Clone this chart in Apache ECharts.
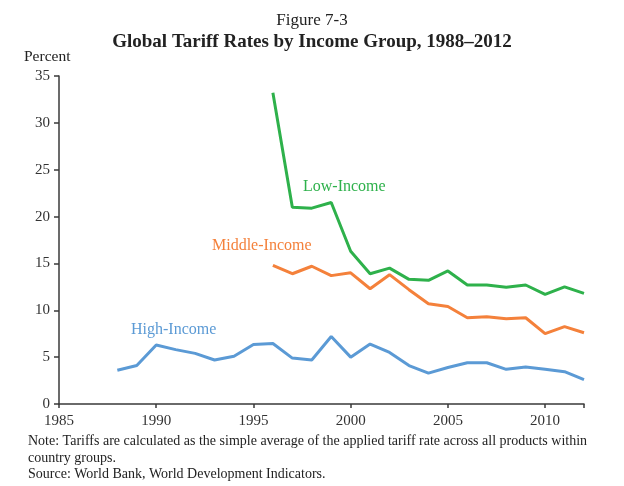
<!DOCTYPE html>
<html>
<head>
<meta charset="utf-8">
<script src="https://cdn.jsdelivr.net/npm/echarts@6/dist/echarts.min.js"></script>
<style>
  html, body { margin: 0; padding: 0; background: #fff; }
  #main { width: 624px; height: 486px; }
</style>
</head>
<body>
<div id="main"></div>
<script>
// tariff rates, percent
var highYears = [1988, 1989, 1990, 1991, 1992, 1993, 1994, 1995, 1996, 1997, 1998, 1999, 2000,
                 2001, 2002, 2003, 2004, 2005, 2006, 2007, 2008, 2009, 2010, 2011, 2012];
var highIncome = [3.6, 4.1, 6.3, 5.8, 5.4, 4.7, 5.1, 6.35, 6.45, 4.9, 4.7, 7.2, 5.0,
                  6.4, 5.5, 4.1, 3.3, 3.9, 4.4, 4.4, 3.7, 3.95, 3.7, 3.45, 2.6];

var lateYears = [1996, 1997, 1998, 1999, 2000, 2001, 2002, 2003, 2004, 2005, 2006, 2007, 2008,
                 2009, 2010, 2011, 2012];
var middleIncome = [14.8, 13.9, 14.7, 13.7, 14.0, 12.3, 13.8, 12.2, 10.7, 10.4, 9.2, 9.3, 9.1,
                    9.2, 7.5, 8.25, 7.6];
var lowIncome = [33.2, 21.0, 20.9, 21.5, 16.3, 13.9, 14.5, 13.3, 13.2, 14.2, 12.7, 12.7, 12.45,
                 12.7, 11.7, 12.5, 11.8];

var xTicks = [1985, 1990, 1995, 2000, 2005, 2010];
var yTicks = [0, 5, 10, 15, 20, 25, 30, 35];

var serif = '"Liberation Serif", "DejaVu Serif", serif';
var axisColor = '#3a3a3a';

let pairs = (xs, ys) => xs.map((x, i) => [x, ys[i]]);

var myChart = echarts.init(document.getElementById('main'));

var option = {
  animation: false,
  grid: { left: 59, right: 40, top: 76, bottom: 82 },
  xAxis: {
    type: 'value',
    min: xTicks[0],
    max: 2012,
    interval: 5,
    splitLine: { show: false },
    axisLine: { lineStyle: { color: axisColor, width: 1.5 } },
    axisTick: { inside: false, length: 4, lineStyle: { color: axisColor, width: 1.5 } },
    axisLabel: {
      margin: 10,
      color: '#333',
      fontFamily: serif,
      fontSize: 15,
      formatter: function (v) { return xTicks.indexOf(v) >= 0 ? String(v) : ''; }
    }
  },
  yAxis: {
    type: 'value',
    min: yTicks[0],
    max: yTicks[yTicks.length - 1],
    interval: 5,
    splitLine: { show: false },
    axisLine: { show: true, lineStyle: { color: axisColor, width: 1.5 } },
    axisTick: { show: true, inside: false, length: 5, lineStyle: { color: axisColor, width: 1.5 } },
    axisLabel: { margin: 9, color: '#333', fontFamily: serif, fontSize: 15 }
  },
  graphic: [
    { type: 'text', left: 'center', top: 12,
      style: { text: 'Figure 7-3', font: '17px ' + serif, fill: '#222' } },
    { type: 'text', left: 'center', top: 33,
      style: { text: 'Global Tariff Rates by Income Group, 1988\u20132012', font: 'bold 19px ' + serif, fill: '#222' } },
    { type: 'text', left: 24, top: 49,
      style: { text: 'Percent', font: '15.5px ' + serif, fill: '#222' } },
    { type: 'text', left: 303, top: 179,
      style: { text: 'Low-Income', font: '16px ' + serif, fill: '#2eb14b' } },
    { type: 'text', left: 212, top: 238,
      style: { text: 'Middle-Income', font: '16px ' + serif, fill: '#f4813b' } },
    { type: 'text', left: 131, top: 322,
      style: { text: 'High-Income', font: '16px ' + serif, fill: '#5b9ad5' } },
    { type: 'text', left: 28, top: 434,
      style: { text: 'Note: Tariffs are calculated as the simple average of the applied tariff rate across all products within',
               font: '14px ' + serif, fill: '#222' } },
    { type: 'text', left: 28, top: 451,
      style: { text: 'country groups.', font: '14px ' + serif, fill: '#222' } },
    { type: 'text', left: 28, top: 467,
      style: { text: 'Source: World Bank, World Development Indicators.', font: '14px ' + serif, fill: '#222' } }
  ],
  series: [
    {
      name: 'High-Income',
      type: 'line',
      showSymbol: false,
      data: pairs(highYears, highIncome),
      lineStyle: { color: '#5b9ad5', width: 3 },
      itemStyle: { color: '#5b9ad5' }
    },
    {
      name: 'Middle-Income',
      type: 'line',
      showSymbol: false,
      data: pairs(lateYears, middleIncome),
      lineStyle: { color: '#f4813b', width: 3 },
      itemStyle: { color: '#f4813b' }
    },
    {
      name: 'Low-Income',
      type: 'line',
      showSymbol: false,
      data: pairs(lateYears, lowIncome),
      lineStyle: { color: '#2eb14b', width: 3 },
      itemStyle: { color: '#2eb14b' }
    }
  ]
};

myChart.setOption(option);
</script>
</body>
</html>
